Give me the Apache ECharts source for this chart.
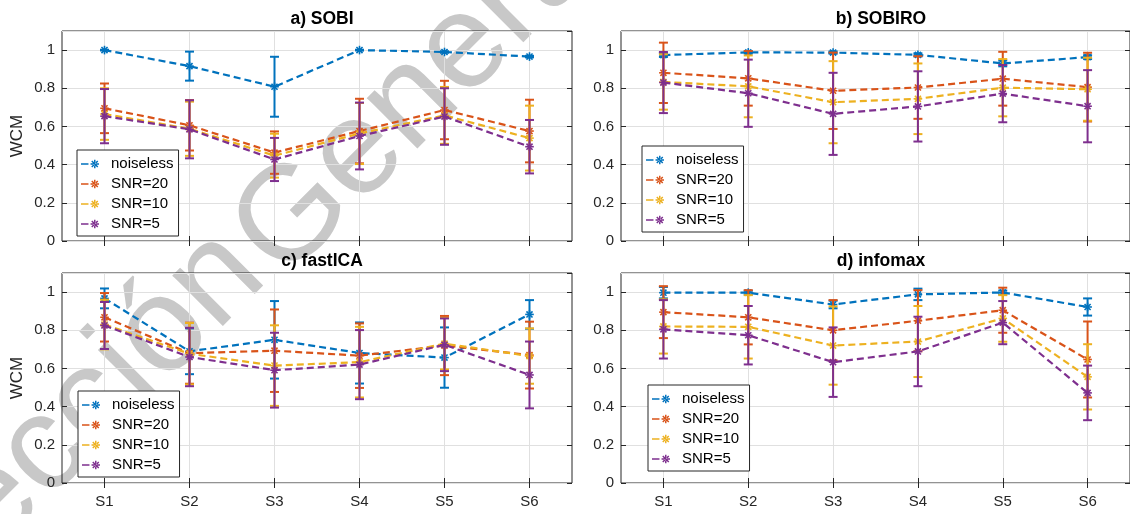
<!DOCTYPE html>
<html>
<head>
<meta charset="utf-8">
<script src="https://cdn.jsdelivr.net/npm/echarts@6/dist/echarts.min.js"></script>
<style>
  html, body { margin: 0; background: #fff; }
  #chart { width: 1130px; height: 514px; }
</style>
</head>
<body>
<div id="chart"></div>
<script>
// ─── Datos ────────────────────────────────────────────────────────────────────
const categories = ['S1', 'S2', 'S3', 'S4', 'S5', 'S6']
const levels     = ['noiseless', 'SNR=20', 'SNR=10', 'SNR=5']
const colors     = ['#0072BD', '#D95319', '#EDB120', '#7E2F8E']
const titles     = ['a) SOBI', 'b) SOBIRO', 'c) fastICA', 'd) infomax']
const yMin = 0, yMax = 1.1, yStep = 0.2

// filas = niveles (noiseless, SNR=20, SNR=10, SNR=5), columnas = S1..S6
const sobiMean = [
  [1.000, 0.916, 0.808, 1.000, 0.990, 0.966],
  [0.695, 0.606, 0.463, 0.576, 0.686, 0.576],
  [0.665, 0.588, 0.447, 0.563, 0.658, 0.539],
  [0.654, 0.585, 0.427, 0.550, 0.652, 0.494],
]
const sobiStd = [
  [0.002, 0.076, 0.157, 0.002, 0.004, 0.004],
  [0.130, 0.132, 0.111, 0.169, 0.153, 0.164],
  [0.135, 0.142, 0.115, 0.160, 0.149, 0.170],
  [0.142, 0.152, 0.113, 0.175, 0.148, 0.140],
]
const sobiroMean = [
  [0.974, 0.988, 0.987, 0.975, 0.930, 0.963],
  [0.881, 0.852, 0.787, 0.804, 0.850, 0.806],
  [0.833, 0.810, 0.727, 0.745, 0.803, 0.795],
  [0.830, 0.774, 0.666, 0.705, 0.772, 0.706],
]
const sobiroStd = [
  [0.010, 0.006, 0.006, 0.008, 0.015, 0.010],
  [0.158, 0.143, 0.200, 0.164, 0.141, 0.180],
  [0.145, 0.162, 0.215, 0.185, 0.150, 0.165],
  [0.160, 0.176, 0.215, 0.184, 0.150, 0.189],
]
const fastIcaMean = [
  [0.967, 0.690, 0.750, 0.681, 0.657, 0.883],
  [0.868, 0.680, 0.693, 0.667, 0.720, 0.670],
  [0.830, 0.677, 0.615, 0.633, 0.730, 0.665],
  [0.825, 0.660, 0.591, 0.620, 0.724, 0.566],
]
const fastIcaStd = [
  [0.052, 0.120, 0.203, 0.160, 0.158, 0.075],
  [0.127, 0.160, 0.216, 0.169, 0.155, 0.175],
  [0.130, 0.161, 0.211, 0.185, 0.135, 0.145],
  [0.123, 0.153, 0.196, 0.181, 0.138, 0.175],
]
const infomaxMean = [
  [0.997, 0.997, 0.935, 0.988, 0.998, 0.922],
  [0.895, 0.868, 0.800, 0.850, 0.905, 0.647],
  [0.820, 0.818, 0.720, 0.741, 0.862, 0.556],
  [0.805, 0.774, 0.633, 0.689, 0.840, 0.472],
]
const infomaxStd = [
  [0.030, 0.010, 0.020, 0.030, 0.010, 0.045],
  [0.136, 0.142, 0.158, 0.160, 0.118, 0.199],
  [0.142, 0.166, 0.205, 0.186, 0.122, 0.171],
  [0.153, 0.153, 0.182, 0.182, 0.113, 0.143],
]

// ─── Layout ───────────────────────────────────────────────────────────────────
const FONT  = '"Liberation Sans", Arial, Helvetica, sans-serif'
const AX    = '#262626'
const GRIDC = '#e0e0e0'

const panels = [
  { mean: sobiMean,    std: sobiStd,    left: 62,  top: 31,  legLeft: 77,  legTop: 150 },
  { mean: sobiroMean,  std: sobiroStd,  left: 621, top: 31,  legLeft: 642, legTop: 146 },
  { mean: fastIcaMean, std: fastIcaStd, left: 62,  top: 273, legLeft: 78,  legTop: 391 },
  { mean: infomaxMean, std: infomaxStd, left: 621, top: 273, legLeft: 648, legTop: 385 },
]

// guion + asterisco para la leyenda
const legendIcon = 'path://M0 4.25H7.6V5.75H0Z' +
  'M9.7 4.25H18.3V5.75H9.7Z' +
  'M13.25 0.7H14.75V9.3H13.25Z' +
  'M11.49 1.43L17.57 7.51L16.51 8.57L10.43 2.49Z' +
  'M11.49 8.57L17.57 2.49L16.51 1.43L10.43 7.51Z'

function errorBarItem(color) {
  return (params, api) => {
    const x = api.value(0), m = api.value(1), s = api.value(2)
    const top = api.coord([x, m + s])
    const bot = api.coord([x, m - s])
    const c   = api.coord([x, m])
    const cap = 4.5, r = 4.3, d = r * 0.7071
    const st  = { stroke: color, lineWidth: 2, fill: null }
    const mk  = { stroke: color, lineWidth: 1.6, fill: null }
    const ln  = (x1, y1, x2, y2, style) => ({ type: 'line', shape: { x1, y1, x2, y2 }, style })
    return {
      type: 'group',
      children: [
        ln(top[0], top[1], bot[0], bot[1], st),
        ln(top[0] - cap, top[1], top[0] + cap, top[1], st),
        ln(bot[0] - cap, bot[1], bot[0] + cap, bot[1], st),
        ln(c[0] - r, c[1], c[0] + r, c[1], mk),
        ln(c[0], c[1] - r, c[0], c[1] + r, mk),
        ln(c[0] - d, c[1] - d, c[0] + d, c[1] + d, mk),
        ln(c[0] - d, c[1] + d, c[0] + d, c[1] - d, mk),
      ],
    }
  }
}

const grid = [], xAxis = [], yAxis = [], series = [], legend = [], title = []

panels.forEach((p, i) => {
  grid.push({ left: p.left, top: p.top, width: 510, height: 210, show: true,
    borderColor: AX, borderWidth: 1, backgroundColor: 'transparent' })

  title.push({ text: titles[i], left: p.left + 255, top: p.top - 26, textAlign: 'center',
    textStyle: { fontFamily: FONT, fontSize: 17.5, fontWeight: 'bold', color: '#000' } })

  const tick = { show: true, inside: true, alignWithLabel: true, length: 5, lineStyle: { color: AX } }
  xAxis.push({
    gridIndex: i, type: 'category', data: categories, boundaryGap: true,
    axisLine: { show: false }, axisTick: tick,
    axisLabel: { show: i >= 2, margin: 11, fontSize: 15, color: AX, fontFamily: FONT },
    splitLine: { show: true, alignWithLabel: true, lineStyle: { color: GRIDC, width: 1 } },
  })
  xAxis.push({
    gridIndex: i, type: 'category', data: categories, boundaryGap: true, position: 'top',
    axisLine: { show: false }, axisTick: tick, axisLabel: { show: false }, splitLine: { show: false },
  })
  yAxis.push({
    gridIndex: i, type: 'value', min: yMin, max: yMax, interval: yStep,
    axisLine: { show: false },
    axisTick: { show: true, inside: true, length: 5, lineStyle: { color: AX } },
    axisLabel: { margin: 7, fontSize: 15, color: AX, fontFamily: FONT, showMaxLabel: false },
    splitLine: { show: true, lineStyle: { color: GRIDC, width: 1 } },
    name: i % 2 === 0 ? 'WCM' : '', nameLocation: 'middle', nameGap: 36,
    nameTextStyle: { fontSize: 17, color: AX, fontFamily: FONT },
  })
  yAxis.push({
    gridIndex: i, type: 'value', min: yMin, max: yMax, interval: yStep, position: 'right',
    axisLine: { show: false },
    axisTick: { show: true, inside: true, length: 5, lineStyle: { color: AX } },
    axisLabel: { show: false }, splitLine: { show: false },
  })

  levels.forEach((name, k) => {
    series.push({
      name, type: 'line', xAxisIndex: 2 * i, yAxisIndex: 2 * i,
      data: p.mean[k], symbol: 'none', color: colors[k], z: 2 + k,
      lineStyle: { color: colors[k], width: 2.2, type: [7, 4] },
      animation: false,
    })
    series.push({
      name, type: 'custom', xAxisIndex: 2 * i, yAxisIndex: 2 * i,
      data: categories.map((c, j) => [j, p.mean[k][j], p.std[k][j]]),
      renderItem: errorBarItem(colors[k]), color: colors[k], z: 2 + k,
      animation: false,
    })
  })

  legend.push({
    orient: 'vertical', left: p.legLeft, top: p.legTop,
    backgroundColor: '#fff', borderColor: AX, borderWidth: 1, borderRadius: 0,
    padding: [6, 5, 4, 4], itemWidth: 18, itemHeight: 9, itemGap: 4,
    selectedMode: false,
    textStyle: { fontFamily: FONT, fontSize: 15, color: '#000', lineHeight: 16, padding: [0, 0, 0, 7] },
    data: levels.map((name, k) => ({ name, icon: legendIcon, itemStyle: { color: colors[k] } })),
  })
})

// marca de agua, en dos palabras
const wmStyle = { fill: '#c8c8c8', fontSize: 135, fontFamily: FONT, verticalAlign: 'middle' }

const chart = echarts.init(document.getElementById('chart'))
chart.setOption({
  animation: false,
  backgroundColor: '#fff',
  textStyle: { fontFamily: FONT },
  title, grid, xAxis, yAxis, legend, series,
  graphic: [
    { type: 'text', x: 243, y: 253, rotation: Math.PI / 4, z: -10, silent: true,
      style: { ...wmStyle, text: 'Dirección', align: 'right' } },
    { type: 'text', x: 257, y: 256, rotation: Math.PI / 4, z: -10, silent: true,
      style: { ...wmStyle, text: 'General', align: 'left' } },
  ],
})
</script>
</body>
</html>
